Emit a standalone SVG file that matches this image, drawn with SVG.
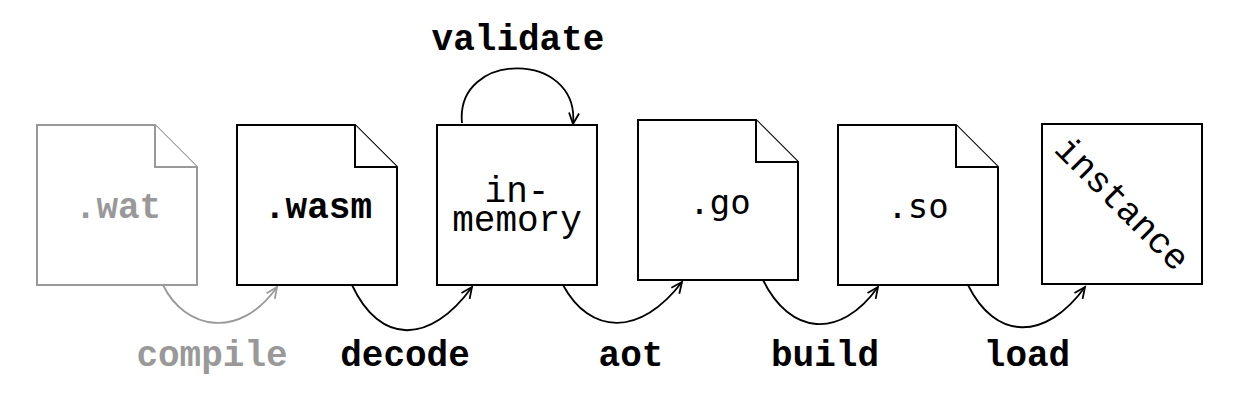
<svg xmlns="http://www.w3.org/2000/svg" width="1238" height="400" viewBox="0 0 1238 400">
<style>
.box{fill:#fff;stroke:#000;stroke-width:2}
.gbox{fill:#fff;stroke:#999;stroke-width:2}
.t{font-family:"Liberation Mono","Courier New",monospace;font-size:36px;text-anchor:middle;fill:#000}
.b{font-weight:bold}
.g{fill:#999}
.s{font-family:"DejaVu Sans Mono",monospace;font-size:34px;text-anchor:middle;fill:#000}
.c{fill:none;stroke:#000;stroke-width:1.8}
.gc{fill:none;stroke:#999;stroke-width:1.8}
</style>
<defs>
<marker id="ah" markerUnits="userSpaceOnUse" markerWidth="16" markerHeight="16" refX="12" refY="6" orient="auto" viewBox="0 0 16 12">
<path d="M1,1 L12,6 L1,11" fill="none" stroke="#000" stroke-width="1.8"/>
</marker>
<marker id="gah" markerUnits="userSpaceOnUse" markerWidth="16" markerHeight="16" refX="12" refY="6" orient="auto" viewBox="0 0 16 12">
<path d="M1,1 L12,6 L1,11" fill="none" stroke="#999" stroke-width="1.8"/>
</marker>
</defs>
<g id="connectors">
<path class="gc" d="M163,285 C185,330 240,340 277,287" marker-end="url(#gah)"/>
<path class="c" d="M352,285 C380,345 430,345 472,287" marker-end="url(#ah)"/>
<path class="c" d="M563,285 C590,335 640,337 682,282" marker-end="url(#ah)"/>
<path class="c" d="M763,280 C790,335 840,340 878,287" marker-end="url(#ah)"/>
<path class="c" d="M968,285 C995,340 1045,342 1085,287" marker-end="url(#ah)"/>
<path class="c" d="M462,123 C455,50 580,50 573,124" marker-end="url(#ah)"/>
<text class="t b g" x="212" y="366">compile</text>
<text class="t b" x="405" y="366">decode</text>
<text class="t b" x="631" y="366">aot</text>
<text class="t b" x="825" y="366">build</text>
<text class="t b" x="1027" y="366">load</text>
<text class="t b" x="518" y="50">validate</text>
</g>
<g id="wat">
<path class="gbox" d="M37,125 H155 L197,167 V285 H37 Z"/>
<path class="gbox" d="M155,125 V167 H197" fill="none"/>
<text class="t b g" x="118" y="218">.wat</text>
</g>
<g id="wasm">
<path class="box" d="M237,125 H355 L397,167 V285 H237 Z"/>
<path class="box" d="M355,125 V167 H397" fill="none"/>
<text class="t b" x="318" y="218">.wasm</text>
</g>
<g id="inmemory">
<rect class="box" x="437" y="125" width="160" height="160"/>
<text class="t" x="517" y="202">in-</text>
<text class="t" x="517" y="231">memory</text>
</g>
<g id="go">
<path class="box" d="M638,120 H756 L798,162 V280 H638 Z"/>
<path class="box" d="M756,120 V162 H798" fill="none"/>
<text class="s" x="720" y="214">.go</text>
</g>
<g id="so">
<path class="box" d="M838,125 H956 L998,167 V285 H838 Z"/>
<path class="box" d="M956,125 V167 H998" fill="none"/>
<text class="s" x="918" y="218">.so</text>
</g>
<g id="instance">
<rect class="box" x="1042" y="124" width="160" height="160"/>
<text class="t" x="0" y="0" transform="translate(1122,204) rotate(45)" dy="11">instance</text>
</g>
</svg>
